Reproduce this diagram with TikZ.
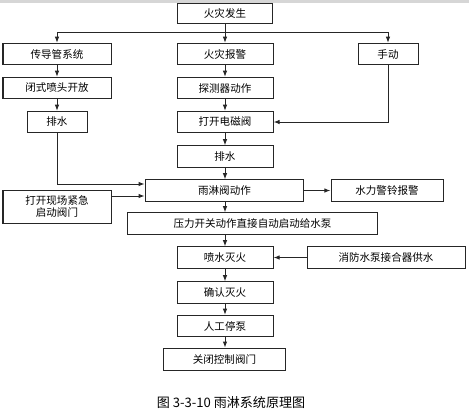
\documentclass[tikz,border=0pt]{standalone}
\usepackage{fontspec}
\setmainfont{Noto Sans CJK SC}
\usetikzlibrary{arrows.meta,calc,positioning}
\definecolor{LineGray}{RGB}{38,38,38}
\definecolor{RuleGray}{RGB}{214,214,214}
\tikzset{
  flowbox/.style={draw=LineGray,line width=0.75pt,minimum height=16pt,inner sep=0pt,
    align=center,font=\fontsize{7.9}{8.6}\selectfont},
  flowarrow/.style={-{Latex[length=4.6pt,width=3.4pt]},draw=LineGray,line width=0.75pt}
}

\begin{document}
\begin{tikzpicture}[x=0.75pt,y=-0.75pt]
  \useasboundingbox (0,0) rectangle (469,411);
  \fill[RuleGray] (0,0) rectangle (469,2.5);
  \node[flowbox,minimum width=71pt,minimum height=15pt] (fire) at (225,13) {火灾发生};
  \node[flowbox,minimum width=81pt] (pipe) at (57,54) {传导管系统};
  \node[flowbox,minimum width=72pt] (alarm) at (225,54) {火灾报警};
  \node[flowbox,minimum width=45pt] (manual) at (388,54) {手动};
  \node[flowbox,minimum width=81pt] (nozzle) at (57,88) {闭式喷头开放};
  \node[flowbox,minimum width=72pt] (detector) at (225,88) {探测器动作};
  \node[flowbox,minimum width=45pt] (drainleft) at (57,122) {排水};
  \node[flowbox,minimum width=72pt] (solenoid) at (225,122) {打开电磁阀};
  \node[flowbox,minimum width=72pt] (draincenter) at (225,156.5) {排水};
  \node[flowbox,minimum width=119pt] (deluge) at (224.5,190.5) {雨淋阀动作};
  \node[flowbox,minimum width=84pt] (bell) at (387,190.5) {水力警铃报警};
  \node[flowbox,minimum width=81pt,minimum height=24.75pt] (emergency) at (57,206.5) {打开现场紧急\\启动阀门};
  \node[flowbox,minimum width=188pt] (pressure) at (252.5,223.5) {压力开关动作直接自动启动给水泵};
  \node[flowbox,minimum width=72pt] (spray) at (225,257.5) {喷水灭火};
  \node[flowbox,minimum width=118.5pt] (adapter) at (386,257.5) {消防水泵接合器供水};
  \node[flowbox,minimum width=72pt] (confirm) at (225,292.5) {确认灭火};
  \node[flowbox,minimum width=72pt] (stoppump) at (225,326) {人工停泵};
  \node[flowbox,minimum width=92pt,minimum height=17pt] (closevalve) at (224.5,359.5) {关闭控制阀门};
  \node[font=\fontsize{9.8}{11}\selectfont] (caption) at (231,403) {图 3-3-10 雨淋系统原理图};

  \coordinate (branch) at (fire.south |- 0,32);
  \coordinate (drainjoin) at ($(deluge.west)+(0,-6.5)$);
  \coordinate (emergout) at ($(emergency.east)+(0,-10.5)$);
  \draw[flowarrow] (fire) -- (alarm);
  \draw[flowarrow] (branch) -| (pipe);
  \draw[flowarrow] (branch) -| (manual);
  \draw[flowarrow] (pipe) -- (nozzle);
  \draw[flowarrow] (nozzle) -- (drainleft);
  \draw[flowarrow] (drainleft) |- (drainjoin);
  \draw[flowarrow] (emergout) -- (emergout -| deluge.west);
  \draw[flowarrow] (alarm) -- (detector);
  \draw[flowarrow] (detector) -- (solenoid);
  \draw[flowarrow] (manual) |- (solenoid);
  \draw[flowarrow] (solenoid) -- (draincenter);
  \draw[flowarrow] (draincenter) -- (draincenter |- deluge.north);
  \draw[flowarrow] (deluge) -- (bell);
  \draw[flowarrow] (deluge.south -| fire.south) -- (pressure.north -| fire.south);
  \draw[flowarrow] (pressure.south -| fire.south) -- (spray);
  \draw[flowarrow] (adapter) -- (spray);
  \draw[flowarrow] (spray) -- (confirm);
  \draw[flowarrow] (confirm) -- (stoppump);
  \draw[flowarrow] (stoppump) -- (stoppump |- closevalve.north);
\end{tikzpicture}
\end{document}
